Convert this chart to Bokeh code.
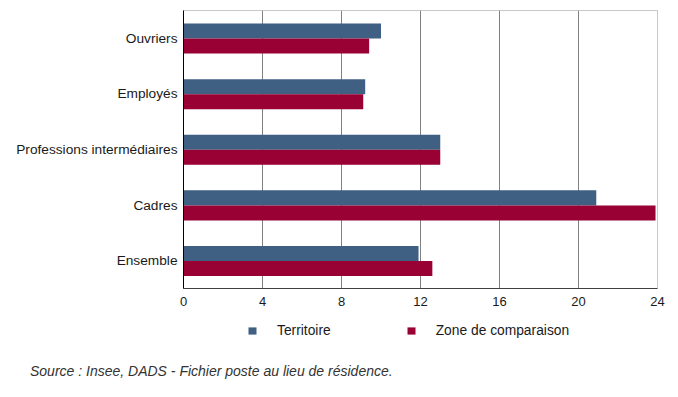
from bokeh.plotting import figure
from bokeh.layouts import column
from bokeh.models import FactorRange, Range1d, Legend, LegendItem, FixedTicker, ColumnDataSource, Div
from bokeh.transform import dodge
from bokeh.embed import file_html
from bokeh.resources import INLINE

categories = ["Ouvriers", "Employés", "Professions intermédiaires", "Cadres", "Ensemble"]
territoire = [10.0, 9.2, 13.0, 20.9, 11.9]
zone_comparaison = [9.4, 9.1, 13.0, 23.9, 12.6]
x_ticks = [0, 4, 8, 12, 16, 20, 24]
series_names = ["Territoire", "Zone de comparaison"]
source_text = "Source : Insee, DADS - Fichier poste au lieu de résidence."

BLUE = "#3f5f83"
RED = "#990033"
FONT = "Liberation Sans"
TXT = "#1a1a1a"

src = ColumnDataSource(dict(cat=categories, t=territoire, z=zone_comparaison))

# ---- main chart ----
p = figure(width=670, height=318, output_backend="svg", toolbar_location=None,
           y_range=FactorRange(factors=list(reversed(categories)), range_padding=0),
           x_range=Range1d(0, 24))
p.min_border_left = 183
p.min_border_right = 13
p.min_border_top = 10
p.min_border_bottom = 30

p.hbar(y=dodge("cat", 0.13, range=p.y_range), right="t", left=0, height=0.27,
       source=src, fill_color=BLUE, line_color=None)
p.hbar(y=dodge("cat", -0.14, range=p.y_range), right="z", left=0, height=0.27,
       source=src, fill_color=RED, line_color=None)

p.outline_line_color = "#c8c8c8"
p.background_fill_color = "white"
p.border_fill_color = "white"

p.xaxis.ticker = FixedTicker(ticks=x_ticks)
p.xaxis.major_tick_line_color = None
p.xaxis.major_tick_out = 0
p.xaxis.major_tick_in = 0
p.xaxis.minor_tick_line_color = None
p.xaxis.axis_line_color = "#404040"
p.xaxis.major_label_text_font = FONT
p.xaxis.major_label_text_font_size = "13px"
p.xaxis.major_label_text_color = TXT
p.xaxis.major_label_standoff = 8

p.yaxis.major_tick_line_color = None
p.yaxis.major_tick_out = 0
p.yaxis.major_tick_in = 0
p.yaxis.minor_tick_line_color = None
p.yaxis.axis_line_color = "#000000"
p.yaxis.major_label_text_font = FONT
p.yaxis.major_label_text_font_size = "13.7px"
p.yaxis.major_label_text_color = TXT
p.yaxis.major_label_standoff = 6

p.xgrid.grid_line_color = "#808080"
p.xgrid.grid_line_width = 1
p.xgrid.ticker = FixedTicker(ticks=x_ticks)
p.ygrid.grid_line_color = None

# ---- legend strip (same borders as the main chart) ----
p2 = figure(width=670, height=40, output_backend="svg", toolbar_location=None,
            x_axis_location=None, y_axis_location=None,
            y_range=FactorRange(factors=list(reversed(categories))),
            x_range=Range1d(0, 24))
p2.min_border_left = 183
p2.min_border_right = 13
p2.min_border_top = 0
p2.min_border_bottom = 0
p2.outline_line_color = None
p2.grid.grid_line_color = None
p2.background_fill_color = "white"
p2.border_fill_color = "white"

l1 = p2.hbar(y="cat", right="t", left=0, height=0.27, source=src,
             fill_color=BLUE, line_color=None, visible=False)
l2 = p2.hbar(y="cat", right="z", left=0, height=0.27, source=src,
             fill_color=RED, line_color=None, visible=False)

legend = Legend(items=[LegendItem(label=series_names[0], renderers=[l1]),
                       LegendItem(label=series_names[1], renderers=[l2])],
                orientation="horizontal", location=(64, 20),
                padding=0, margin=0, spacing=75, label_standoff=20,
                glyph_width=10, glyph_height=9, label_height=16,
                border_line_alpha=0, background_fill_alpha=0,
                label_text_font=FONT, label_text_font_size="13.8px",
                label_text_color=TXT)
p2.add_layout(legend, "center")

# ---- source note ----
note = Div(text=source_text, width=670, height=32, margin=(0, 0, 0, 0),
           styles={"font-family": FONT, "font-style": "italic", "font-size": "14px",
                   "color": "#333333", "padding-left": "30px", "padding-top": "5px",
                   "line-height": "16px"})

layout = column(p, p2, note, spacing=0)
open("out.html", "w").write(file_html(layout, INLINE))
